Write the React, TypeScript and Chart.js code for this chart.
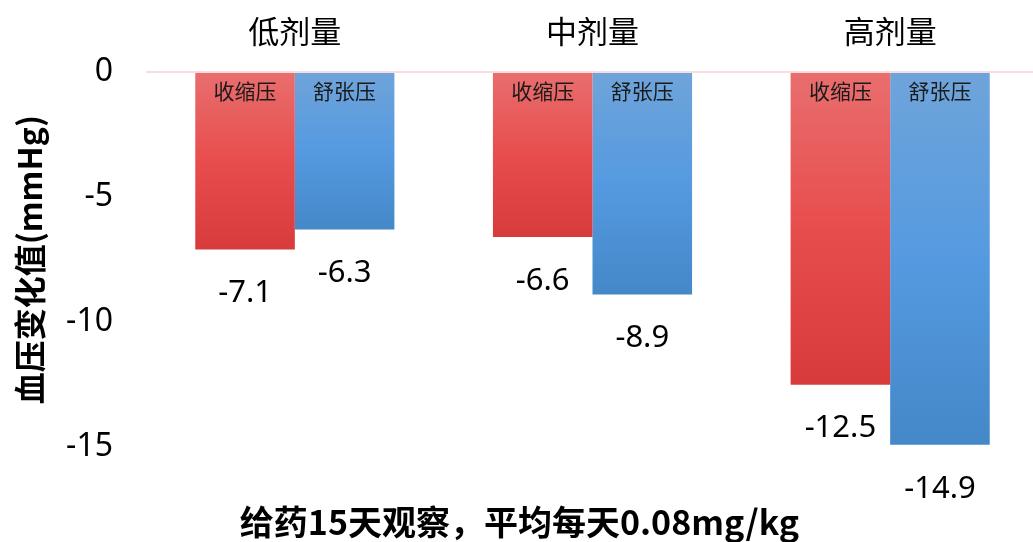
import React, { useEffect, useRef } from "react";
import { Chart, registerables } from "chart.js";

Chart.register(...registerables);

const categories = ["低剂量", "中剂量", "高剂量"];
const seriesNames = ["收缩压", "舒张压"];
const systolic = [-7.1, -6.6, -12.5];
const diastolic = [-6.3, -8.9, -14.9];
const yTicks = [0, -5, -10, -15];
const yTitle = "血压变化值(mmHg)";
const xTitle = "给药15天观察，平均每天0.08mg/kg";

const FONT = "'Noto Sans', 'Noto Sans CJK SC', sans-serif";
const CJK = "'Noto Sans CJK SC', 'Noto Sans', sans-serif";

const gradStops = [
  ["#E96E6E", "#E84D4D", "#D73B3B"],
  ["#6FA4DA", "#559AE0", "#4488C8"],
];

function makeBg(dsIndex: number) {
  return (ctx: any) => {
    const chart = ctx.chart;
    const area = chart.chartArea;
    if (!area || ctx.type !== "data") return gradStops[dsIndex][1];
    const yScale = chart.scales.y;
    const top = yScale.getPixelForValue(0);
    const bottom = yScale.getPixelForValue(ctx.raw as number);
    if (!isFinite(top) || !isFinite(bottom) || bottom === top) return gradStops[dsIndex][1];
    const g = chart.ctx.createLinearGradient(0, top, 0, bottom);
    const s = gradStops[dsIndex];
    g.addColorStop(0, s[0]);
    g.addColorStop(0.5, s[1]);
    g.addColorStop(1, s[2]);
    return g;
  };
}

const labelPlugin = {
  id: "barLabels",
  afterDatasetsDraw(chart: any) {
    const ctx = chart.ctx;
    ctx.save();
    chart.data.datasets.forEach((ds: any, di: number) => {
      const meta = chart.getDatasetMeta(di);
      meta.data.forEach((bar: any, i: number) => {
        const { x, y, base } = bar.getProps(["x", "y", "base"], true);
        ctx.textAlign = "center";
        ctx.textBaseline = "middle";
        ctx.fillStyle = "#1a1a1a";
        ctx.font = `21px ${CJK}`;
        ctx.fillText(seriesNames[di], x, base + 18);
        ctx.fillStyle = "#000000";
        ctx.font = `31px ${FONT}`;
        ctx.fillText(String(ds.data[i]), x, y + 44);
      });
    });
    ctx.restore();
  },
};

export default function App() {
  const ref = useRef<HTMLCanvasElement | null>(null);
  useEffect(() => {
    if (!ref.current) return;
    const chart = new Chart(ref.current, {
      type: "bar",
      data: {
        labels: categories,
        datasets: [
          { label: seriesNames[0], data: systolic, backgroundColor: makeBg(0), borderWidth: 0 },
          { label: seriesNames[1], data: diastolic, backgroundColor: makeBg(1), borderWidth: 0 },
        ],
      },
      options: {
        animation: false,
        responsive: false,
        maintainAspectRatio: false,
        layout: { padding: 0 },
        datasets: { bar: { categoryPercentage: 0.669, barPercentage: 1 } },
        plugins: {
          legend: { display: false },
          tooltip: { enabled: false },
          title: {
            display: true,
            text: xTitle,
            position: "bottom",
            color: "#000",
            font: { family: CJK, size: 34, weight: "bold", lineHeight: 1.2 },
            padding: { top: 54, bottom: 0 },
          },
        },
        scales: {
          x: {
            position: "top",
            grid: { display: false, drawTicks: false },
            border: { display: false },
            ticks: { color: "#000", font: { family: CJK, size: 31 }, padding: 22 },
            afterFit: (s: any) => { s.height = 72; },
          },
          y: {
            min: -15,
            max: 0,
            afterBuildTicks: (s: any) => { s.ticks = yTicks.map((v) => ({ value: v })); },
            grid: {
              drawTicks: false,
              lineWidth: 2,
              color: (c: any) => (c.tick && c.tick.value === 0 ? "#F9DCE0" : "rgba(0,0,0,0)"),
            },
            border: { display: false },
            ticks: { color: "#000", font: { family: FONT, size: 32 }, padding: 33 },
            title: {
              display: true,
              text: yTitle,
              color: "#000",
              font: { family: CJK, size: 32, weight: "bold", lineHeight: 1.2 },
              padding: { top: 11, bottom: 0 },
            },
            afterFit: (s: any) => { s.width = 146; },
          },
        },
      },
      plugins: [labelPlugin],
    });
    return () => chart.destroy();
  }, []);
  return (
    <div style={{ position: "fixed", left: 0, top: 0, width: 1039, height: 542, background: "#fff" }}>
      <canvas ref={ref} width={1039} height={542} style={{ display: "block" }} />
    </div>
  );
}
